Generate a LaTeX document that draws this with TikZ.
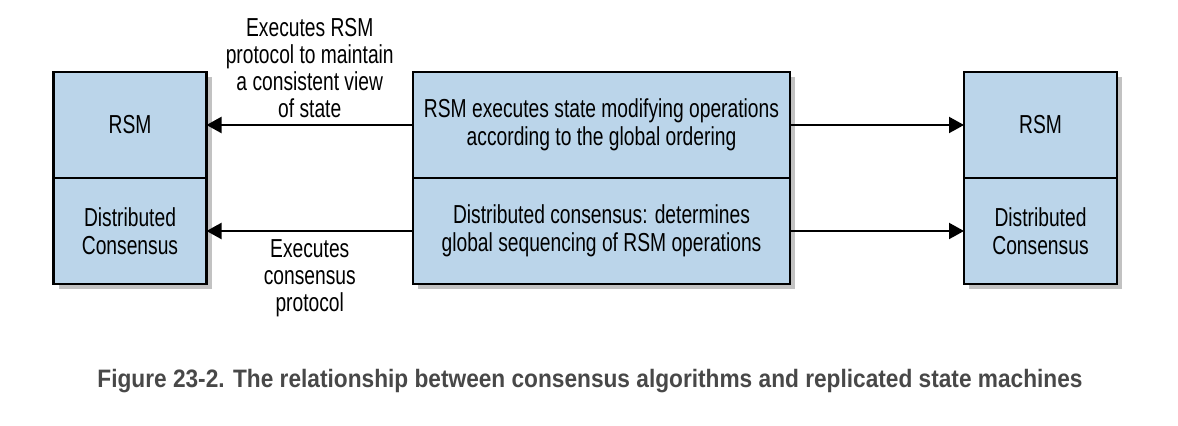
\documentclass[tikz,border=0pt]{standalone}
\usepackage{fontspec}
\setmainfont{Liberation Sans}[FakeStretch=0.74]
\newfontfamily\capfont{Liberation Sans}[FakeStretch=0.9]
\usetikzlibrary{arrows.meta,positioning,shadows}
\definecolor{rsmblue}{RGB}{187,213,234}
\definecolor{capgray}{RGB}{72,72,72}

\begin{document}
\begin{tikzpicture}[
  x=0.5pt,y=-0.5pt,
  node distance=0pt,
  every node/.style={font=\fontsize{13}{14}\selectfont,align=center},
  layer/.style={draw=black,line width=1.3pt,fill=rsmblue,outer sep=0pt,inner sep=2pt,
    drop shadow={shadow xshift=2.5pt,shadow yshift=-2.5pt,fill=black!60,opacity=0.4}},
  side/.style={layer,minimum width=76.5pt,minimum height=53pt},
  core/.style={layer,minimum width=188.5pt,minimum height=53pt},
  arrow/.style={-{Triangle[length=7.5pt,width=8pt]},line width=1pt,draw=black},
  note/.style={inner sep=1pt,font=\fontsize{13}{13.5}\selectfont}
]
\useasboundingbox (0,0) rectangle (1178,426);
\node[side] (rsmL) at (130,125) {RSM};
\node[side,below=of rsmL] (dcL) {Distributed\\Consensus};
\node[core] (rsmM) at (601.5,125) {RSM executes state modifying operations\\according to the global ordering};
\node[core,below=of rsmM] (dcM) {Distributed consensus: determines\\global sequencing of RSM operations};
\node[side] (rsmR) at (1040.5,125) {RSM};
\node[side,below=of rsmR] (dcR) {Distributed\\Consensus};
\draw[arrow] (rsmM) -- (rsmL) node[note,midway,above=2pt] (noteRSM) {Executes RSM\\protocol to maintain\\a consistent view\\of state};
\draw[arrow] (dcM) -- (dcL) node[note,midway,below=3pt] (noteDC) {Executes\\consensus\\protocol};
\draw[arrow] (rsmM) -- (rsmR);
\draw[arrow] (dcM) -- (dcR);
\node[font=\capfont\fontsize{12.6}{14}\selectfont\bfseries,text=capgray] (caption) at (590,381)
  {Figure 23-2. The relationship between consensus algorithms and replicated state machines};
\end{tikzpicture}
\end{document}
